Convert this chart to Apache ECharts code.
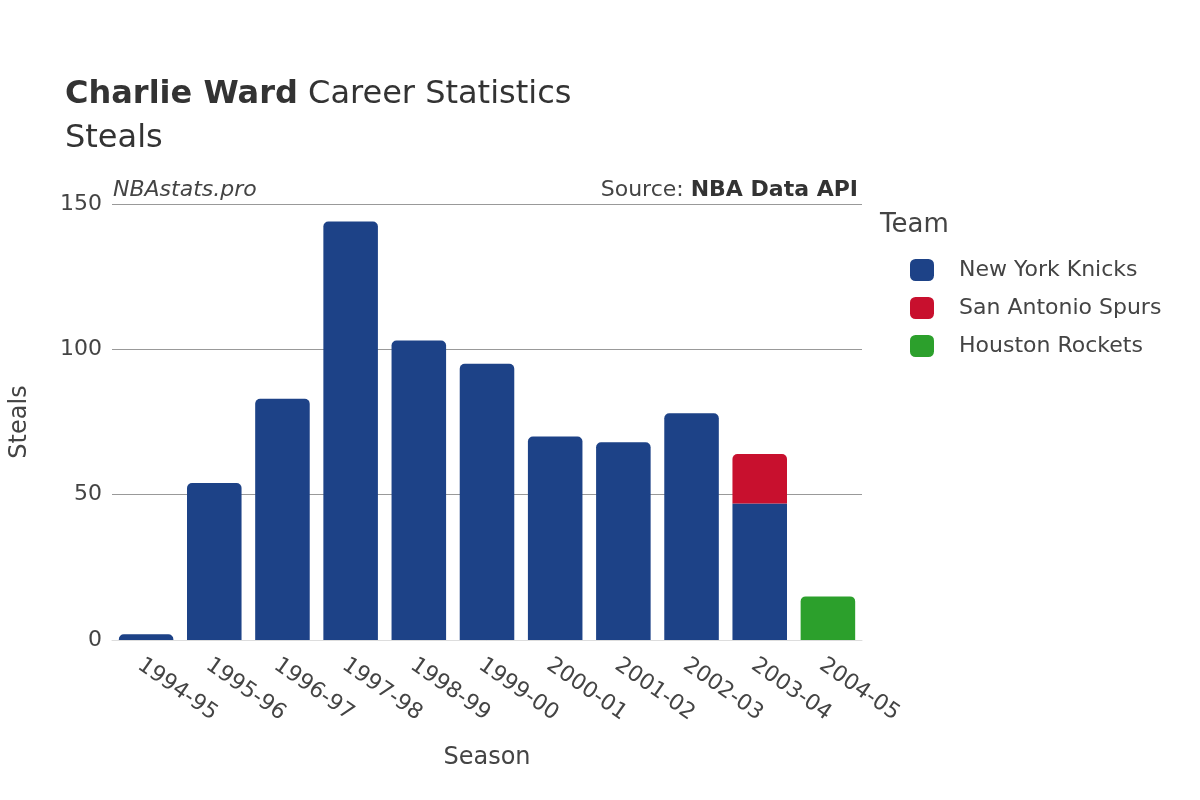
<!DOCTYPE html>
<html>
<head>
<meta charset="utf-8">
<script src="https://cdn.jsdelivr.net/npm/echarts@6/dist/echarts.min.js"></script>
<style>html,body{margin:0;padding:0;background:#fff}#echart{width:1200px;height:800px}</style>
</head>
<body>
<div id="echart"></div>
<script>
var seasons = ['1994-95','1995-96','1996-97','1997-98','1998-99','1999-00','2000-01','2001-02','2002-03','2003-04','2004-05'];
var knicks = [2, 54, 83, 144, 103, 95, 70, 68, 78, 47, null];
var spurs = [null, null, null, null, null, null, null, null, null, 17, null];
var rockets = [null, null, null, null, null, null, null, null, null, null, 15];
var yTicks = [0, 50, 100, 150];

var myChart = echarts.init(document.getElementById('echart'));
var font = 'DejaVu Sans';

// top bar of each stack gets round corners
function topRounded(vals, above) {
    return vals.map(function (v, i) {
        var covered = above.some(function (a) { return a[i] != null; });
        return { value: v, itemStyle: { borderRadius: covered ? 0 : [5, 5, 0, 0] } };
    });
}

var option = {
    textStyle: { fontFamily: font },
    title: {
        text: '{b|Charlie Ward} Career Statistics\nSteals',
        left: 60, top: 68,
        textStyle: {
            fontFamily: font, fontSize: 32, color: '#333', fontWeight: 'normal', lineHeight: 44,
            rich: { b: { fontFamily: font, fontSize: 32, fontWeight: 'bold', color: '#333' } }
        }
    },
    grid: { left: 110, right: 338, top: 204, bottom: 160 },
    xAxis: {
        type: 'category',
        data: seasons,
        name: 'Season',
        nameLocation: 'middle',
        nameGap: 106,
        nameTextStyle: { fontSize: 24, color: '#444' },
        axisLine: { lineStyle: { color: '#ddd' } },
        axisTick: { show: false },
        axisLabel: { rotate: -35, fontSize: 22, color: '#444', margin: 14, align: 'left', verticalAlign: 'top' }
    },
    yAxis: {
        type: 'value',
        min: 0, max: 150, interval: 50,
        name: 'Steals',
        nameLocation: 'middle',
        nameGap: 80,
        nameTextStyle: { fontSize: 24, color: '#444' },
        axisLabel: { fontSize: 22, color: '#444', margin: 10 },
        splitLine: { lineStyle: { color: '#999' } }
    },
    legend: {
        orient: 'vertical',
        left: 905, top: 254,
        itemWidth: 24, itemHeight: 22, itemGap: 16,
        icon: 'roundRect',
        textStyle: { fontSize: 22, color: '#444', padding: [0, 0, 0, 20] },
        data: ['New York Knicks', 'San Antonio Spurs', 'Houston Rockets']
    },
    graphic: [
        { type: 'text', left: 880, top: 212, style: { text: 'Team', font: '26px DejaVu Sans', fill: '#444' } },
        { type: 'text', left: 113, top: 179, style: { text: 'NBAstats.pro', font: 'italic 22px DejaVu Sans', fill: '#444' } },
        { type: 'text', right: 342, top: 179, style: { text: '{n|Source: }{b|NBA Data API}', rich: { n: { font: '22px DejaVu Sans', fill: '#444' }, b: { font: 'bold 22px DejaVu Sans', fill: '#333' } } } }
    ],
    series: [
        { name: 'New York Knicks', type: 'bar', stack: 's', barCategoryGap: '20%', color: '#1d4287', data: topRounded(knicks, [spurs, rockets]) },
        { name: 'San Antonio Spurs', type: 'bar', stack: 's', color: '#c8102e', data: topRounded(spurs, [rockets]) },
        { name: 'Houston Rockets', type: 'bar', stack: 's', color: '#2ca02c', data: topRounded(rockets, []) }
    ]
};
myChart.setOption(option);
</script>
</body>
</html>
